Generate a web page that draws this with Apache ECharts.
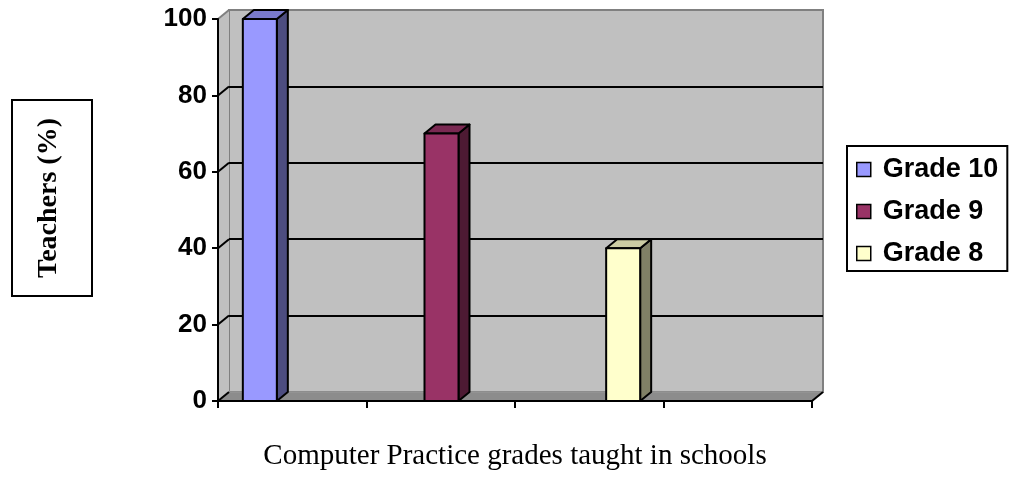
<!DOCTYPE html>
<html>
<head>
<meta charset="utf-8">
<script src="https://cdn.jsdelivr.net/npm/echarts@6/dist/echarts.min.js"></script>
<style>
  html, body { margin: 0; padding: 0; background: #ffffff; }
  #chart { width: 1009px; height: 492px; }
</style>
</head>
<body>
<div id="chart"></div>
<script>
// Share of teachers teaching Computer Practice, per grade
const grades = ['Grade 10', 'Grade 9', 'Grade 8'];
const teacherShare = [100, 70, 40];
const floorSlots = ['', '', '', ''];
const yTicks = [0, 20, 40, 60, 80, 100];
const yTitle = 'Teachers (%)';
const xTitle = 'Computer Practice grades taught in schools';

const faceColors = ['#9999FF', '#993366', '#FFFFCC'];
const SANS = "'Liberation Sans', Arial, sans-serif";
const SERIF = "'Liberation Serif', 'Times New Roman', serif";
const DX = 11, DY = -9;   // depth offset of the 3-D box (front plane -> back wall)
const BAR_W = 34;

function shade(hex, k) {
  const n = parseInt(hex.slice(1), 16);
  const r = Math.round(((n >> 16) & 255) * k);
  const g = Math.round(((n >> 8) & 255) * k);
  const b = Math.round((n & 255) * k);
  return 'rgb(' + r + ',' + g + ',' + b + ')';
}

// Side wall, floor and the receding grid lines of the chart box
function shellRenderer(params, api) {
  const cs = params.coordSys;
  const L = cs.x, R = cs.x + cs.width, T = cs.y, B = cs.y + cs.height;
  const kids = [];
  kids.push({ type: 'polygon', shape: { points: [[L, T], [L + DX, T + DY], [L + DX, B + DY], [L, B]] },
              style: { fill: '#C0C0C0' } });
  kids.push({ type: 'polygon', shape: { points: [[L, B], [R, B], [R + DX, B + DY], [L + DX, B + DY]] },
              style: { fill: '#8C8C8C', stroke: '#9A9A9A', lineWidth: 1 } });
  yTicks.forEach(function (t) {
    const y = api.coord([0, t])[1];
    kids.push({ type: 'line', shape: { x1: L, y1: y, x2: L + DX, y2: y + DY },
                style: { stroke: t === 100 ? '#808080' : '#000', lineWidth: 2 } });
  });
  kids.push({ type: 'line', shape: { x1: R, y1: B, x2: R + DX, y2: B + DY },
              style: { stroke: '#000', lineWidth: 2 } });
  return { type: 'group', children: kids };
}

// One 3-D column: front face, top face and right side face
function columnRenderer(params, api) {
  const top = api.coord([api.value(0), api.value(1)]);
  const base = api.coord([api.value(0), 0]);
  const x0 = top[0] - BAR_W / 2, x1 = top[0] + BAR_W / 2;
  const yT = top[1], yB = base[1];
  const c = api.visual('color');
  const edge = { stroke: '#000', lineWidth: 2, lineJoin: 'round' };
  return {
    type: 'group',
    children: [
      { type: 'polygon', shape: { points: [[x1, yB], [x1 + DX, yB + DY], [x1 + DX, yT + DY], [x1, yT]] },
        style: Object.assign({ fill: shade(c, 0.5) }, edge) },
      { type: 'polygon', shape: { points: [[x0, yT], [x1, yT], [x1 + DX, yT + DY], [x0 + DX, yT + DY]] },
        style: Object.assign({ fill: shade(c, 0.8) }, edge) },
      { type: 'rect', shape: { x: x0, y: yT, width: BAR_W, height: yB - yT },
        style: Object.assign({ fill: c }, edge) }
    ]
  };
}

const columnSeries = grades.map(function (g, i) {
  return {
    name: g,
    type: 'custom',
    xAxisIndex: 2,
    yAxisIndex: 2,
    z: 4,
    itemStyle: { color: faceColors[i] },
    renderItem: columnRenderer,
    data: [[i, teacherShare[i]]]
  };
});

const chart = echarts.init(document.getElementById('chart'), null, { renderer: 'canvas' });
chart.setOption({
  animation: false,
  backgroundColor: '#ffffff',
  grid: [
    // back wall
    { left: 229, top: 10, width: 594, height: 382, show: true,
      backgroundColor: '#C0C0C0', borderColor: '#808080', borderWidth: 2 },
    // front plane (axes)
    { left: 218, top: 19, width: 594, height: 382 },
    // column placement
    { left: 169, top: 19, width: 545, height: 382 }
  ],
  xAxis: [
    { gridIndex: 0, type: 'category', data: floorSlots, show: false },
    { gridIndex: 1, type: 'category', data: floorSlots, z: 6, boundaryGap: true,
      axisLine: { show: true, lineStyle: { color: '#000', width: 2 } },
      axisTick: { show: true, interval: 0, alignWithLabel: false, length: 7,
                  lineStyle: { color: '#000', width: 2 } },
      axisLabel: { show: true, interval: 0, color: 'rgba(0,0,0,0)', fontSize: 1 },
      name: xTitle, nameLocation: 'middle', nameGap: 41,
      nameTextStyle: { fontFamily: SERIF, fontSize: 29, color: '#000' } },
    { gridIndex: 2, type: 'category', data: grades, show: false }
  ],
  yAxis: [
    { gridIndex: 0, type: 'value', min: 0, max: 100, interval: 20,
      axisLine: { show: false }, axisTick: { show: false }, axisLabel: { show: false },
      splitLine: { show: true, showMinLine: false, showMaxLine: false,
                   lineStyle: { color: '#000', width: 2 } } },
    { gridIndex: 1, type: 'value', min: 0, max: 100, interval: 20, z: 6,
      axisLine: { show: true, lineStyle: { color: '#000', width: 2 } },
      axisTick: { show: true, length: 6, lineStyle: { color: '#000', width: 2 } },
      axisLabel: { margin: 11, fontFamily: SANS, fontWeight: 'bold', fontSize: 26, color: '#000' },
      splitLine: { show: false } },
    { gridIndex: 2, type: 'value', min: 0, max: 100, show: false }
  ],
  legend: {
    orient: 'vertical',
    left: 847, top: 146,
    padding: [10, 9, 4, 9],
    itemGap: 15,
    itemWidth: 14, itemHeight: 14,
    icon: 'rect',
    borderColor: '#000', borderWidth: 2,
    backgroundColor: '#ffffff',
    textStyle: { fontFamily: SANS, fontWeight: 'bold', fontSize: 27, lineHeight: 26, color: '#000',
                 padding: [0, 0, 0, 7] },
    data: grades.map(function (g, i) {
      return { name: g, itemStyle: { color: faceColors[i], borderColor: '#000', borderWidth: 1.5 } };
    })
  },
  graphic: [
    { type: 'group', left: 11, top: 99, children: [
      { type: 'rect', shape: { x: 0, y: 0, width: 80, height: 196 },
        style: { fill: '#ffffff', stroke: '#000', lineWidth: 2 } },
      { type: 'text', x: 37, y: 98, rotation: Math.PI / 2,
        style: { text: yTitle, font: 'bold 28px ' + SERIF, fill: '#000',
                 textAlign: 'center', textVerticalAlign: 'middle' } }
    ] }
  ],
  series: [
    { name: 'shell', type: 'custom', xAxisIndex: 1, yAxisIndex: 1, z: 1, silent: true,
      renderItem: shellRenderer, data: [[0, 0]] }
  ].concat(columnSeries)
});
</script>
</body>
</html>
